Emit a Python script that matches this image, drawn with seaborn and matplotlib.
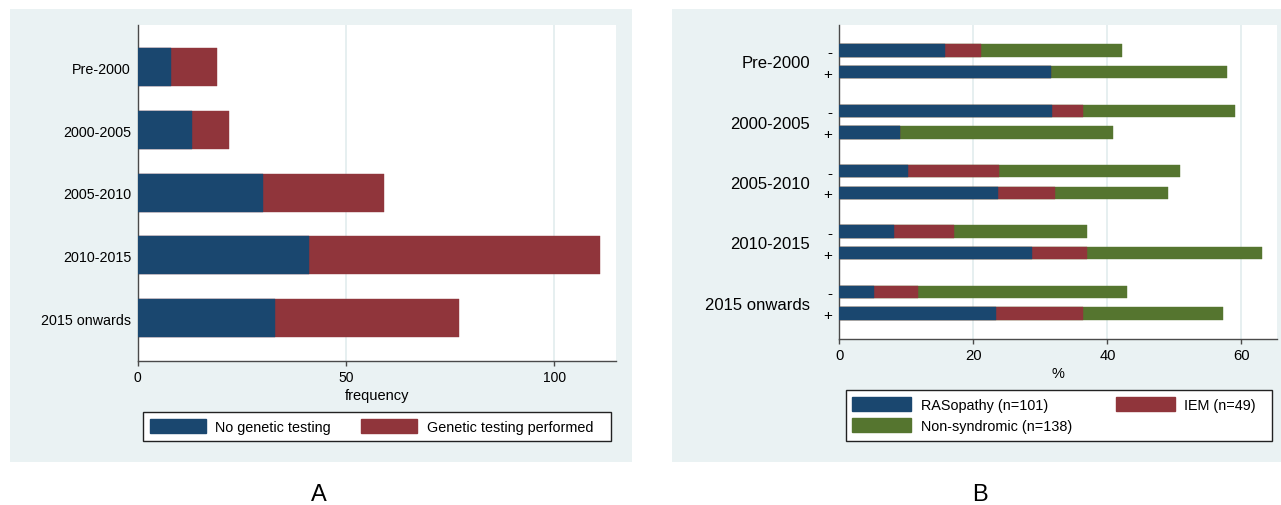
import matplotlib
matplotlib.use("Agg")
import matplotlib.pyplot as plt
from matplotlib.patches import Rectangle, Patch
import seaborn as sns
import pandas as pd
import numpy as np

# ---------------- data ----------------
periods = ["Pre-2000", "2000-2005", "2005-2010", "2010-2015", "2015 onwards"]

# Panel A: frequency
no_testing = [8, 13, 30, 41, 33]
testing = [11, 9, 29, 70, 44]

# Panel B: % of patients in each period, by genetic testing (-/+) and diagnosis
tests = ["-", "+"]
ras_minus = [15.8, 31.8, 10.2, 8.1, 5.2]
iem_minus = [5.3, 4.5, 13.6, 9.0, 6.5]
non_minus = [21.1, 22.7, 27.1, 19.8, 31.2]
ras_plus = [31.6, 9.1, 23.7, 28.8, 23.4]
iem_plus = [0.0, 0.0, 8.5, 8.1, 13.0]
non_plus = [26.3, 31.8, 16.9, 26.1, 20.8]

legend_a = ["No genetic testing", "Genetic testing performed"]
legend_b = ["RASopathy (n=101)", "IEM (n=49)", "Non-syndromic (n=138)"]

# ---------------- style ----------------
NAVY = "#1a476f"
MAROON = "#90353b"
GREEN = "#55752f"
BG = "#eaf2f3"
GRID = "#e2ecee"
AX = "#4a4a4a"

plt.rcParams["font.family"] = ["Liberation Sans", "DejaVu Sans"]

W, H = 1281, 506
fig = plt.figure(figsize=(W / 100, H / 100), dpi=100)
fig.patch.set_facecolor("white")


def fx(px):
    return px / W


def fy(py):
    return 1 - py / H


def fig_rect(x0, y0, x1, y1, **kw):
    fig.add_artist(Rectangle((fx(x0), fy(y1)), fx(x1) - fx(x0), fy(y0) - fy(y1),
                             transform=fig.transFigure, **kw))


# panel backgrounds
fig_rect(10, 10, 632, 463, facecolor=BG, edgecolor="none", zorder=0)
fig_rect(672, 10, 1281, 463, facecolor=BG, edgecolor="none", zorder=0)


def style_axes(ax, xticks, xlim, tick_fs):
    ax.set_facecolor("white")
    for s in ["top", "right"]:
        ax.spines[s].set_visible(False)
    for s in ["left", "bottom"]:
        ax.spines[s].set_color(AX)
        ax.spines[s].set_linewidth(1.0)
    ax.set_xlim(*xlim)
    ax.set_xticks(xticks)
    ax.set_xticklabels([str(t) for t in xticks])
    ax.tick_params(axis="x", length=3.6, width=1, color=AX, pad=3, labelsize=tick_fs)
    for t in xticks:
        if t != 0:
            ax.axvline(t, color=GRID, lw=1.2, zorder=0.5)
    ax.set_axisbelow(True)


# ---------------- Panel A ----------------
axA = fig.add_axes([fx(137.7), fy(361.7), fx(616) - fx(137.7), fy(26) - fy(361.7)])
dfA = pd.DataFrame({"period": periods,
                    "no": no_testing,
                    "total": np.add(no_testing, testing)})
sns.barplot(data=dfA, y="period", x="total", order=periods, color=MAROON, saturation=1,
            width=0.606, errorbar=None, ax=axA, orient="h", edgecolor=MAROON, linewidth=0.3, zorder=2)
sns.barplot(data=dfA, y="period", x="no", order=periods, color=NAVY, saturation=1,
            width=0.606, errorbar=None, ax=axA, orient="h", edgecolor=NAVY, linewidth=0.3, zorder=3)
style_axes(axA, [0, 50, 100], (0, 114.8), 10)
axA.set_ylim(4.68, -0.675)
axA.set_ylabel("")
axA.set_xlabel("frequency", fontsize=10.5, labelpad=3)
axA.tick_params(axis="y", length=0, pad=4.8, labelsize=10.3)

# legend A: frame drawn separately, entries spread inside
fig_rect(143.3, 413.3, 610.7, 441.7, facecolor="white", edgecolor="#222222", linewidth=1.0, zorder=5)
legA = fig.legend(handles=[Patch(facecolor=NAVY, edgecolor=NAVY), Patch(facecolor=MAROON, edgecolor=MAROON)],
                  labels=legend_a, ncols=2, loc="center",
                  bbox_to_anchor=(fx(150), fy(441.7), fx(593) - fx(150), fy(413.3) - fy(441.7)),
                  mode="expand", borderaxespad=0, borderpad=0, fontsize=10.4,
                  handlelength=55.7 / 14.4, handleheight=16 / 14.4,
                  handletextpad=0.65, columnspacing=1.0, frameon=False)
legA.set_zorder(6)

# ---------------- Panel B ----------------
axB = fig.add_axes([fx(839.3), fy(340), fx(1277) - fx(839.3), fy(26) - fy(340)])
rows = []
for i, p in enumerate(periods):
    rows.append({"period": p, "test": "-", "r": ras_minus[i],
                 "ri": ras_minus[i] + iem_minus[i],
                 "rin": ras_minus[i] + iem_minus[i] + non_minus[i]})
    rows.append({"period": p, "test": "+", "r": ras_plus[i],
                 "ri": ras_plus[i] + iem_plus[i],
                 "rin": ras_plus[i] + iem_plus[i] + non_plus[i]})
dfB = pd.DataFrame(rows)

for col, c, z in [("rin", GREEN, 2), ("ri", MAROON, 3), ("r", NAVY, 4)]:
    sns.barplot(data=dfB, y="period", x=col, hue="test", order=periods, hue_order=tests,
                palette={"-": c, "+": c}, saturation=1, width=0.716, gap=0.43, dodge=True,
                errorbar=None, legend=False, ax=axB, orient="h", edgecolor=c, linewidth=0.3, zorder=z)

style_axes(axB, [0, 20, 40, 60], (0, 65.3), 10.6)
axB.set_ylim(4.6, -0.6)
axB.set_ylabel("")
axB.set_xlabel("%", fontsize=10.5, labelpad=3)
axB.tick_params(axis="y", which="major", length=0, pad=21, labelsize=12)
minor_pos = []
minor_lab = []
for i in range(len(periods)):
    minor_pos += [i - 0.179, i + 0.179]
    minor_lab += tests
axB.set_yticks(minor_pos, minor=True)
axB.set_yticklabels(minor_lab, minor=True)
axB.tick_params(axis="y", which="minor", length=0, pad=5, labelsize=11)

fig_rect(845.7, 390.7, 1271.7, 441.7, facecolor="white", edgecolor="#222222", linewidth=1.0, zorder=5)
hB = [Patch(facecolor=NAVY, edgecolor=NAVY), Patch(facecolor=GREEN, edgecolor=GREEN),
      Patch(facecolor=MAROON, edgecolor=MAROON)]
lB = [legend_b[0], legend_b[2], legend_b[1]]
legB = fig.legend(handles=hB, labels=lB, ncols=2, loc="center",
                  bbox_to_anchor=(fx(852.3), fy(441.7), fx(1256) - fx(852.3), fy(390.7) - fy(441.7)),
                  mode="expand", borderaxespad=0, borderpad=0, fontsize=10.4,
                  handlelength=58.7 / 14.4, handleheight=15.6 / 14.4,
                  handletextpad=0.65, columnspacing=1.0, labelspacing=0.44, frameon=False)
legB.set_zorder(6)

# panel letters
fig.text(fx(319), fy(495), "A", ha="center", va="center", fontsize=17)
fig.text(fx(980), fy(495), "B", ha="center", va="center", fontsize=17)

fig.savefig("out.png", dpi=100)
